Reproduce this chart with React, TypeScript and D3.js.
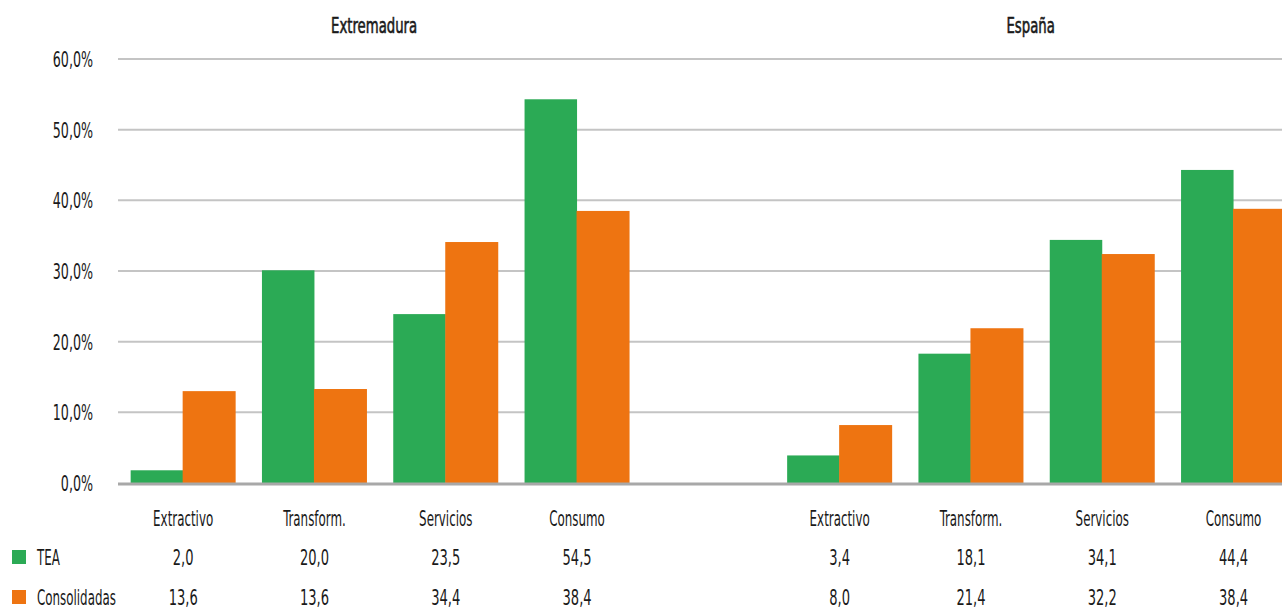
import React from "react";
import * as d3 from "d3";

const categories = ["Extractivo", "Transform.", "Servicios", "Consumo"];
const regions = ["Extremadura", "España"];
// bar heights (%) as drawn
const teaBars = [
  [1.8, 30.1, 23.9, 54.3],
  [3.9, 18.3, 34.4, 44.3],
];
const consBars = [
  [13.0, 13.3, 34.1, 38.5],
  [8.2, 21.9, 32.4, 38.8],
];
// table values
const teaTable = [
  ["2,0", "20,0", "23,5", "54,5"],
  ["3,4", "18,1", "34,1", "44,4"],
];
const consTable = [
  ["13,6", "13,6", "34,4", "38,4"],
  ["8,0", "21,4", "32,2", "38,4"],
];
const yTicks = [0, 10, 20, 30, 40, 50, 60];
const seriesNames = ["TEA", "Consolidadas"];
const colors = ["#2BAA55", "#EE7411"];

const W = 1282;
const H = 610;
const FONT = "'DejaVu Sans Condensed', 'DejaVu Sans', sans-serif";

function T(props: { x: number; y: number; anchor?: string; size?: number; sx?: number; heavy?: boolean; children: React.ReactNode }) {
  const { x, y, anchor = "middle", size = 22, sx = 0.6, heavy = false, children } = props;
  return (
    <text
      transform={`translate(${x},${y}) scale(${sx},1)`}
      dy="0.36em"
      textAnchor={anchor}
      fontSize={size}
      fill="#1a1a1a"
      stroke={heavy ? "#1a1a1a" : "none"}
      strokeWidth={heavy ? 0.6 : 0}
    >
      {children}
    </text>
  );
}

export default function App() {
  const slots = d3.range(9).map(String);
  const x = d3.scaleBand<string>().domain(slots).range([118, 118 + 9 * 131.3]).padding(0);
  const y = d3.scaleLinear().domain([0, 60]).range([483, 59]);
  const barW = 52.5;

  const slotIndex = (r: number, c: number) => (r === 0 ? c : 5 + c);
  const center = (r: number, c: number) => (x(String(slotIndex(r, c))) as number) + x.bandwidth() / 2 - 0.5;

  return (
    <svg width={W} height={H} style={{ position: "absolute", left: 0, top: 0, display: "block", background: "#fff" }} fontFamily={FONT}>
      {yTicks.map((t) => (
        <g key={t}>
          {t !== 0 && <line x1={118} x2={W} y1={y(t)} y2={y(t)} stroke="#c4c4c4" strokeWidth={2} />}
          <T x={93} y={y(t)} anchor="end" sx={0.64}>
            {d3.format(".1f")(t).replace(".", ",") + "%"}
          </T>
        </g>
      ))}
      {regions.map((reg, r) =>
        categories.map((cat, c) => {
          const cx = center(r, c);
          return (
            <g key={reg + cat}>
              <rect x={cx - barW} y={y(teaBars[r][c])} width={barW} height={y(0) - y(teaBars[r][c])} fill={colors[0]} />
              <rect x={cx - 0.5} y={y(consBars[r][c])} width={barW + 0.5} height={y(0) - y(consBars[r][c])} fill={colors[1]} />
              <T x={cx} y={518}>{cat}</T>
              <T x={cx} y={557} sx={0.66}>{teaTable[r][c]}</T>
              <T x={cx} y={597} sx={0.66}>{consTable[r][c]}</T>
            </g>
          );
        })
      )}
      <line x1={118} x2={W} y1={y(0) + 1} y2={y(0) + 1} stroke="#a8a8a8" strokeWidth={3} />
      {regions.map((reg, r) => (
        <T key={reg} x={(center(r, 1) + center(r, 2)) / 2 - 6} y={25} sx={0.67} heavy>
          {reg}
        </T>
      ))}
      {seriesNames.map((s, i) => (
        <g key={s}>
          <rect x={12} y={(i === 0 ? 557 : 597) - 7} width={14} height={14} fill={colors[i]} />
          <T x={37} y={i === 0 ? 557 : 597} anchor="start">{s}</T>
        </g>
      ))}
    </svg>
  );
}
